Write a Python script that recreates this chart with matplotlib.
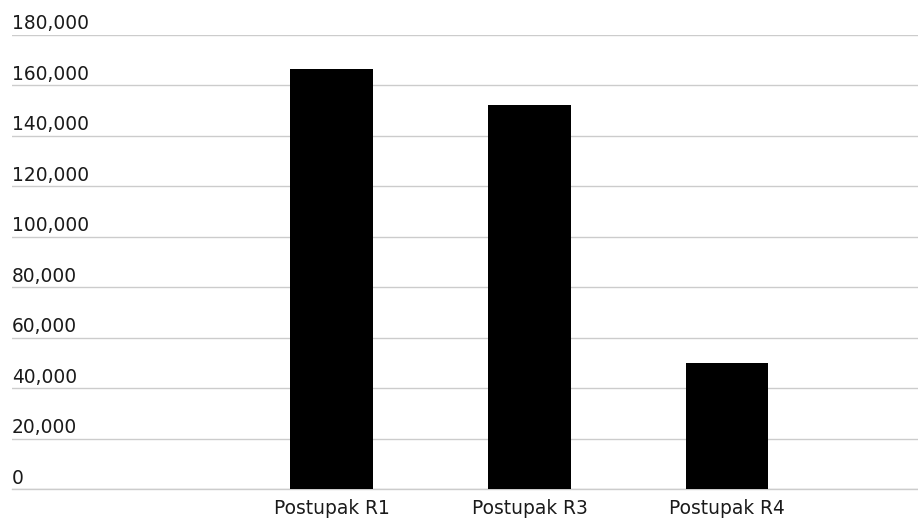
import numpy as np
import matplotlib.pyplot as plt
import matplotlib.transforms as mtransforms

categories = ['Postupak R1', 'Postupak R3', 'Postupak R4']
values = [166500, 152000, 50000]
y_ticks = [0, 20000, 40000, 60000, 80000, 100000, 120000, 140000, 160000, 180000]

fig = plt.figure(figsize=(9.18, 5.19), dpi=100)
ax = fig.add_axes([12/918, 30/519, 906/918, (489-34.7)/519])

x = np.arange(len(categories))
ax.bar(x, values, width=0.42, color='black', zorder=3)

ax.set_ylim(0, 180000)
ax.set_xlim(-1.62, 2.967)
ax.set_yticks(y_ticks)
ax.yaxis.grid(True, color='#cccccc', linewidth=1.0)
ax.axhline(0, color='#cccccc', linewidth=1.0, clip_on=False, zorder=2)
ax.set_yticklabels([])
ax.tick_params(axis='y', length=0)

ax.set_xticks(x)
ax.set_xticklabels(categories, fontsize=13.4, color='#1a1a1a')
ax.tick_params(axis='x', length=0, pad=7.0)

for s in ax.spines.values():
    s.set_visible(False)

# y labels sit above their gridlines at the left edge
trans = mtransforms.blended_transform_factory(ax.transAxes, ax.transData)
offset = mtransforms.ScaledTranslation(0, 3.9/72, fig.dpi_scale_trans)
for t in y_ticks:
    ax.text(0, t, f'{t:,}', transform=trans + offset, ha='left', va='baseline',
            fontsize=13.4, color='#1a1a1a')

fig.savefig('out.png', dpi=100)
